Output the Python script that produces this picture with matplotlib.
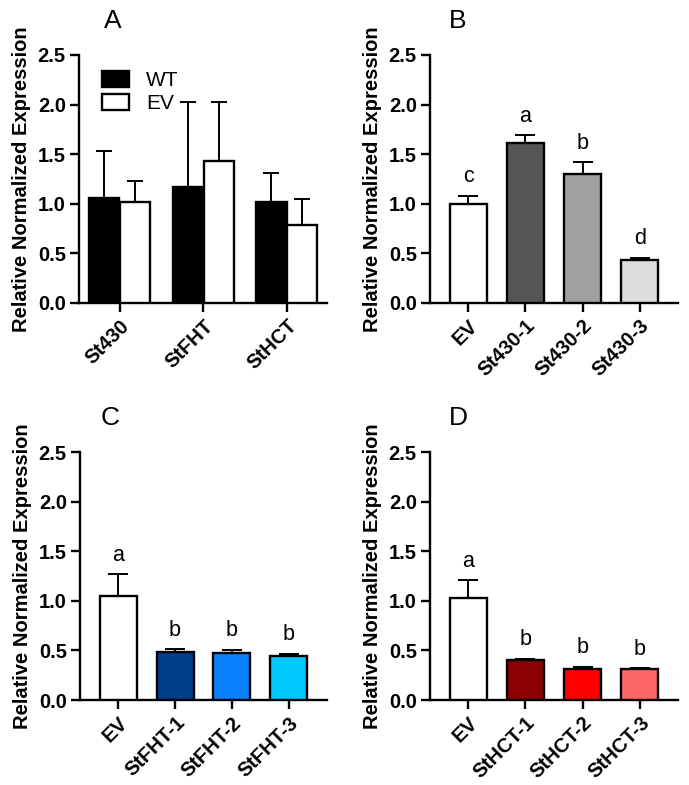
import matplotlib
matplotlib.use("Agg")
import matplotlib.pyplot as plt
import numpy as np
from matplotlib.patches import Patch

plt.rcParams['font.family'] = ['Liberation Sans', 'DejaVu Sans']

# Panel A
a_genes = ["St430", "StFHT", "StHCT"]
a_wt = [1.06, 1.17, 1.02]
a_wt_err = [0.47, 0.86, 0.29]
a_ev = [1.02, 1.43, 0.79]
a_ev_err = [0.21, 0.60, 0.26]

# Panel B
b_labels = ["EV", "St430-1", "St430-2", "St430-3"]
b_vals = [1.00, 1.61, 1.30, 0.43]
b_err = [0.08, 0.08, 0.12, 0.025]
b_letters = ["c", "a", "b", "d"]
b_colors = ["#ffffff", "#555555", "#a0a0a0", "#dcdcdc"]

# Panel C
c_labels = ["EV", "StFHT-1", "StFHT-2", "StFHT-3"]
c_vals = [1.05, 0.48, 0.475, 0.443]
c_err = [0.22, 0.03, 0.03, 0.022]
c_letters = ["a", "b", "b", "b"]
c_colors = ["#ffffff", "#003f87", "#0a80ff", "#00c8ff"]

# Panel D
d_labels = ["EV", "StHCT-1", "StHCT-2", "StHCT-3"]
d_vals = [1.03, 0.405, 0.31, 0.308]
d_err = [0.18, 0.012, 0.025, 0.012]
d_letters = ["a", "b", "b", "b"]
d_colors = ["#ffffff", "#8b0000", "#ff0000", "#ff6666"]

yticks = [0.0, 0.5, 1.0, 1.5, 2.0, 2.5]

W, H = 689, 785
fig = plt.figure(figsize=(W / 100, H / 100), dpi=100)

def px_axes(l, r, t, b):
    return fig.add_axes([l / W, 1 - b / H, (r - l) / W, (b - t) / H])

axA = px_axes(79, 327, 55, 303)
axB = px_axes(430, 678, 55, 303)
axC = px_axes(80, 327, 452, 700)
axD = px_axes(430, 678, 452, 700)

LW = 1.7

def style(ax, labels, xlim):
    ax.set_ylim(0, 2.5)
    ax.set_xlim(*xlim)
    ax.set_yticks(yticks)
    ax.set_yticklabels([f"{v:.1f}" for v in yticks])
    ax.set_xticks(range(len(labels)))
    ax.set_xticklabels(labels, rotation=45, ha='right', rotation_mode='anchor')
    for s in ['top', 'right']:
        ax.spines[s].set_visible(False)
    for s in ['left', 'bottom']:
        ax.spines[s].set_linewidth(LW)
    ax.tick_params(axis='both', direction='out', length=6.5, width=LW, labelsize=14.5, pad=3)
    for t in ax.get_xticklabels() + ax.get_yticklabels():
        t.set_fontweight('bold')
    ax.set_ylabel("Relative Normalized Expression", fontsize=14.5, fontweight='bold', labelpad=5)

# Panel A
x = np.arange(len(a_genes))
off = 0.185
bw = 0.36
axA.bar(x - off, a_wt, bw, color='black', edgecolor='black', linewidth=LW, zorder=3, label='WT')
axA.bar(x + off, a_ev, bw, color='white', edgecolor='black', linewidth=LW, zorder=3, label='EV')
axA.errorbar(x - off, a_wt, yerr=[np.zeros(3), a_wt_err], fmt='none', ecolor='black',
             elinewidth=1.4, capsize=5.5, capthick=1.4, zorder=2)
axA.errorbar(x + off, a_ev, yerr=[np.zeros(3), a_ev_err], fmt='none', ecolor='black',
             elinewidth=1.4, capsize=5.5, capthick=1.4, zorder=2)
style(axA, a_genes, (-0.49, 2.48))
leg = axA.legend(handles=[Patch(facecolor='black', edgecolor='black', linewidth=LW),
                          Patch(facecolor='white', edgecolor='black', linewidth=LW)],
                 labels=['WT', 'EV'], loc='upper left', bbox_to_anchor=(0.06, 0.97),
                 frameon=False, fontsize=15, handlelength=1.3, handleheight=0.8,
                 labelspacing=0.2, handletextpad=0.8, borderpad=0.2, borderaxespad=0.2)

def single(ax, labels, vals, errs, letters, colors):
    x = np.arange(len(labels))
    ax.bar(x, vals, 0.65, color=colors, edgecolor='black', linewidth=LW, zorder=3)
    ax.errorbar(x, vals, yerr=[np.zeros(len(x)), errs], fmt='none', ecolor='black',
                elinewidth=1.4, capsize=7, capthick=1.4, zorder=2)
    for xi, v, e, l in zip(x, vals, errs, letters):
        ax.text(xi, v + e + 0.085, l, ha='center', va='bottom', fontsize=15.5)
    style(ax, labels, (-0.67, 3.67))

single(axB, b_labels, b_vals, b_err, b_letters, b_colors)
single(axC, c_labels, c_vals, c_err, c_letters, c_colors)
single(axD, d_labels, d_vals, d_err, d_letters, d_colors)

for lab, xp, yp in [("A", 113, 21), ("B", 458, 21), ("C", 110, 418), ("D", 458, 418)]:
    fig.text(xp / W, 1 - yp / H, lab, ha='center', va='center', fontsize=19)

fig.savefig("out.png", dpi=100)
